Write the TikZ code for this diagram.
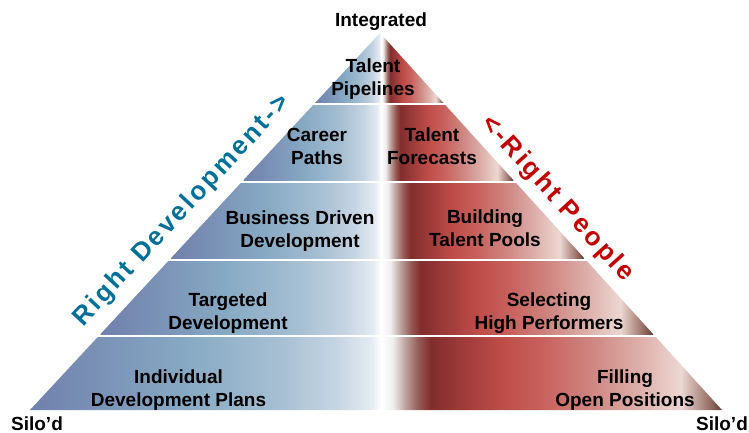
\documentclass[tikz,border=0pt]{standalone}
\usepackage{fontspec}
\setmainfont{Liberation Sans}
\newfontfamily\rotfont{Liberation Sans}[LetterSpace=10]
\definecolor{devblue}{RGB}{0,112,152}
\definecolor{pplred}{RGB}{196,0,0}
\definecolor{bA}{RGB}{112,128,172}
\definecolor{bB}{RGB}{125,150,185}
\definecolor{bC}{RGB}{135,170,196}
\definecolor{bD}{RGB}{165,190,210}
\definecolor{bE}{RGB}{197,212,226}
\definecolor{bF}{RGB}{228,234,241}
\definecolor{rA}{RGB}{240,238,238}
\definecolor{rB}{RGB}{190,165,160}
\definecolor{rC}{RGB}{150,90,85}
\definecolor{rD}{RGB}{130,45,45}
\definecolor{rE}{RGB}{140,50,50}
\definecolor{rF}{RGB}{190,76,72}
\definecolor{rG}{RGB}{200,96,92}
\definecolor{rH}{RGB}{206,132,127}
\definecolor{rI}{RGB}{221,176,171}
\definecolor{rJ}{RGB}{236,215,210}
\definecolor{rK}{RGB}{150,108,98}
\definecolor{rL}{RGB}{100,62,56}
% TikZ maps the 25bp..75bp part of a shading onto the path's bounding box
\pgfdeclarehorizontalshading{blueband}{100bp}{color(0bp)=(bA); color(25bp)=(bA); color(37.5bp)=(bB); color(47.5bp)=(bC); color(60bp)=(bD); color(68.5bp)=(bE); color(73.5bp)=(bF); color(75bp)=(white); color(100bp)=(white)}
\pgfdeclarehorizontalshading{redband}{100bp}{color(0bp)=(white); color(25bp)=(white); color(26.75bp)=(rA); color(28.5bp)=(rB); color(30.5bp)=(rC); color(32.25bp)=(rD); color(34bp)=(rE); color(42.5bp)=(rF); color(48.5bp)=(rG); color(55.5bp)=(rH); color(63bp)=(rI); color(69bp)=(rJ); color(73.25bp)=(rK); color(75bp)=(rL); color(100bp)=(rL)}
\tikzset{
  lbl/.style={font=\bfseries\fontsize{19}{23}\selectfont, align=center, inner sep=0pt},
  edgetext/.style={font=\rotfont\bfseries\fontsize{26}{30}\selectfont, inner sep=0pt},
  bluefill/.style={shading=blueband},
  redfill/.style={shading=redband}
}
\begin{document}
\begin{tikzpicture}[x=1pt,y=-1pt]
\useasboundingbox (0,0) rectangle (749,433);
\coordinate (apex) at (380,33);
\coordinate (bl) at (30,410);
\coordinate (br) at (722,410);
\begin{scope}
\clip (apex) -- (bl) -- (br) -- cycle;
% band 1
\shade[bluefill] (315,33) rectangle (381,103);
\shade[redfill] (381,33) rectangle (443.5,103);
% band 2
\shade[bluefill] (243.6,106) rectangle (381,180);
\shade[redfill] (381,106) rectangle (513.3,180);
% band 3
\shade[bluefill] (171.2,183) rectangle (381,258);
\shade[redfill] (381,183) rectangle (584.1,258);
% band 4
\shade[bluefill] (100.7,261) rectangle (381,334);
\shade[redfill] (381,261) rectangle (653,334);
% band 5
\shade[bluefill] (30,337) rectangle (381,410);
\shade[redfill] (381,337) rectangle (722,410);
\end{scope}
\node[lbl, anchor=base] (top) at (381,27) {Integrated};
\node[lbl] (pipe) at (373,78.7) {Talent\\Pipelines};
\node[lbl] (career) at (317,146.6) {Career\\Paths};
\node[lbl] (fore) at (432,146.6) {Talent\\Forecasts};
\node[lbl] (busi) at (300,230.7) {Business Driven\\Development};
\node[lbl] (pools) at (485,228.7) {Building\\Talent Pools};
\node[lbl] (targ) at (228,312.7) {Targeted\\Development};
\node[lbl] (sel) at (549,312.7) {Selecting\\High Performers};
\node[lbl] (indiv) at (178.5,389.7) {Individual\\Development Plans};
\node[lbl] (fill) at (625,389.7) {Filling\\Open Positions};
\node[lbl, anchor=base] (siloL) at (37,430) {Silo’d};
\node[lbl, anchor=base] (siloR) at (722,430) {Silo’d};
\node[edgetext, text=devblue, rotate=47.1] (rdev) at (182,211) {Right Development->};
\node[edgetext, text=pplred, rotate=-47.8] (rppl) at (557,199) {<-Right People};
\end{tikzpicture}
\end{document}
